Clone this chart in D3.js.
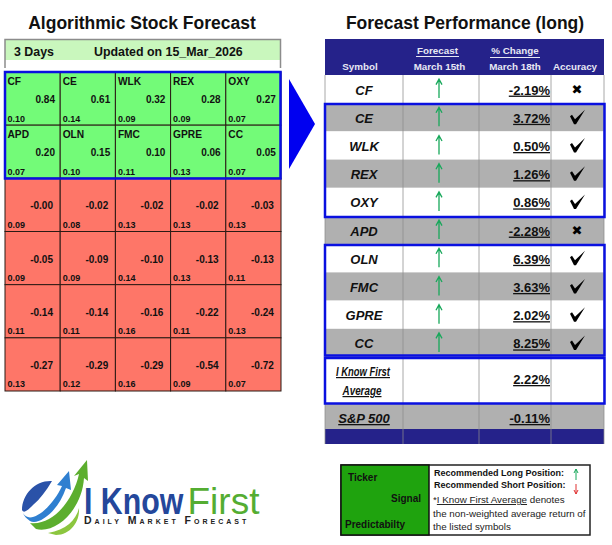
<!DOCTYPE html>
<html>
<head>
<meta charset="utf-8">
<script src="https://cdn.jsdelivr.net/npm/d3@7"></script>
<style>
    html, body { margin: 0; padding: 0; background: #fff; }
    svg { display: block; font-family: "Liberation Sans", Arial, sans-serif; }
</style>
</head>
<body>
<svg id="chart" width="612" height="545"></svg>
<script>
// heatmap cells, read row by row
const tickers = ["CF", "CE", "WLK", "REX", "OXY", "APD", "OLN", "FMC", "GPRE", "CC"];
const signals = ["0.84", "0.61", "0.32", "0.28", "0.27", "0.20", "0.15", "0.10", "0.06", "0.05",
    "-0.00", "-0.02", "-0.02", "-0.02", "-0.03", "-0.05", "-0.09", "-0.10", "-0.13", "-0.13",
    "-0.14", "-0.14", "-0.16", "-0.22", "-0.24", "-0.27", "-0.29", "-0.29", "-0.54", "-0.72"];
const predictability = ["0.10", "0.14", "0.09", "0.09", "0.07", "0.07", "0.10", "0.11", "0.13", "0.07",
    "0.09", "0.08", "0.13", "0.13", "0.13", "0.09", "0.09", "0.14", "0.13", "0.11",
    "0.11", "0.11", "0.16", "0.11", "0.13", "0.13", "0.12", "0.16", "0.09", "0.07"];

// performance table
const symbols = ["CF", "CE", "WLK", "REX", "OXY", "APD", "OLN", "FMC", "GPRE", "CC"];
const changes = ["-2.19%", "3.72%", "0.50%", "1.26%", "0.86%", "-2.28%", "6.39%", "3.63%", "2.02%", "8.25%"];
const hits = [false, true, true, true, true, false, true, true, true, true];
const averageChange = "2.22%";
const spChange = "-0.11%";

const svg = d3.select("#chart");

function label(parent, x, y, str, size, opts) {
    opts = opts || {};
    return parent.append("text")
        .attr("x", x).attr("y", y)
        .attr("font-size", size)
        .attr("text-anchor", opts.anchor || "start")
        .attr("font-weight", opts.weight || "bold")
        .attr("font-style", opts.style || "normal")
        .attr("fill", opts.fill || "#111")
        .attr("text-decoration", opts.underline ? "underline" : null)
        .text(str);
}

// squeeze a label to a given width (the narrow fonts are not installed)
function squeeze(sel, width) {
    return sel.attr("textLength", width).attr("lengthAdjust", "spacingAndGlyphs");
}

/* ---------- left: forecast heatmap ---------- */
const colX = d3.scaleBand().domain(d3.range(5)).range([5, 281]);
const rowY = d3.scaleBand().domain(d3.range(6)).range([72, 391]);

label(svg, 142, 29, "Algorithmic Stock Forecast", 17.5, { anchor: "middle" });

svg.append("rect").attr("x", 5).attr("y", 39).attr("width", 276).attr("height", 21).attr("fill", "#c9f7bd");
svg.append("path").attr("d", "M5,68V39.5H280.5V68").attr("fill", "none").attr("stroke", "#8c8c8c").attr("stroke-width", 1.5);
label(svg, 14, 56, "3 Days", 12.4);
label(svg, 94, 56, "Updated on 15_Mar_2026", 12.4);

const cells = svg.append("g").selectAll("g")
    .data(signals.map((s, i) => ({ s, i })))
    .join("g")
    .attr("transform", d => `translate(${colX(d.i % 5)},${rowY(Math.floor(d.i / 5))})`);

cells.append("rect")
    .attr("width", colX.bandwidth())
    .attr("height", rowY.bandwidth())
    .attr("fill", d => d.i < 10 ? "#73fb78" : "#fe7668")
    .attr("stroke", "#2b1a14")
    .attr("stroke-width", 1);

cells.append("text").attr("font-weight", "bold").attr("fill", "#111").attr("x", 2.5).attr("y", 12.5).attr("font-size", 10.2)
    .text(d => tickers[d.i] || "");
cells.append("text").attr("font-weight", "bold").attr("fill", "#111")
    .attr("x", d => d.i < 10 ? 50 : 48)
    .attr("y", 31)
    .attr("text-anchor", "end").attr("font-size", 10)
    .text(d => d.s);
cells.append("text").attr("font-weight", "bold").attr("fill", "#111").attr("x", 2.5).attr("y", 49.5).attr("font-size", 9)
    .text(d => predictability[d.i]);

// blue box round the long picks
svg.append("rect").attr("x", 5).attr("y", 72).attr("width", 275.5).attr("height", 106.5)
    .attr("fill", "none").attr("stroke", "#0a10e0").attr("stroke-width", 2.5);

// big arrow between the panels
svg.append("path").attr("d", "M289,79L315,124L289,169Z").attr("fill", "#0000f0");

/* ---------- right: performance table ---------- */
const tableCols = [325, 403, 479, 551, 604];
const rowBand = d3.scaleBand().domain(symbols).range([75, 357]);
const bodyBottom = 445;

label(svg, 465, 29, "Forecast Performance (long)", 17.5, { anchor: "middle" });

// header
svg.append("rect").attr("x", 325).attr("y", 39).attr("width", 279).attr("height", 36).attr("fill", "#25228a");
const white = { anchor: "middle", fill: "#e8e8f4" };
label(svg, 360, 70, "Symbol", 9.8, white);
label(svg, 437.5, 54, "Forecast", 9.8, white);
label(svg, 439.5, 70, "March 15th", 9.8, white);
label(svg, 515, 54, "% Change", 9.8, white);
label(svg, 515, 70, "March 18th", 9.8, white);
label(svg, 575, 70, "Accuracy", 9.8, white);
svg.append("line").attr("x1", 416).attr("x2", 459).attr("y1", 56.5).attr("y2", 56.5).attr("stroke", "#e8e8f4");
svg.append("line").attr("x1", 490).attr("x2", 540).attr("y1", 57.5).attr("y2", 57.5).attr("stroke", "#e8e8f4");

// rows
symbols.forEach(function (sym, i) {
    const top = rowBand(sym);
    const h = rowBand.bandwidth();
    svg.append("rect").attr("x", 325).attr("y", top).attr("width", 279).attr("height", h)
        .attr("fill", i % 2 ? "#b0b0b0" : "#fff");
    const mid = top + h / 2;
    label(svg, 364, mid + 5.5, sym, 13, { anchor: "middle", style: "italic" });
    label(svg, 550, mid + 5.5, changes[i], 13, { anchor: "end", underline: true });
    svg.append("path")
        .attr("d", `M439,${mid + 9}V${mid - 10}M436,${mid - 4.5}L439,${mid - 10}L442,${mid - 4.5}`)
        .attr("fill", "none").attr("stroke", "#17a85a").attr("stroke-width", 1.3);
    if (hits[i]) {
        svg.append("path")
            .attr("d", `M570,${mid - 1}L572,${mid - 2.5}L575,${mid + 2}L585,${mid - 7.5}L576,${mid + 7}L574,${mid + 7}Z`)
            .attr("fill", "#000");
    } else {
        label(svg, 577, mid + 5, "\u2716", 13, { anchor: "middle", fill: "#000" })
            .style("font-family", "'DejaVu Sans'");
    }
});

// summary rows
svg.append("rect").attr("x", 325).attr("y", 357).attr("width", 279).attr("height", 47).attr("fill", "#fff");
svg.append("rect").attr("x", 325).attr("y", 404).attr("width", 279).attr("height", 25).attr("fill", "#b0b0b0");
svg.append("rect").attr("x", 325).attr("y", 429).attr("width", 279).attr("height", 15).attr("fill", "#25228a");
const condensed = { anchor: "middle", style: "italic", underline: true };
squeeze(label(svg, 363, 376, "I Know First", 12, condensed), 54);
squeeze(label(svg, 362, 395, "Average", 12, condensed), 39);
label(svg, 550, 384, averageChange, 13, { anchor: "end", underline: true });
label(svg, 364, 423, "S&P 500", 13, condensed);
label(svg, 550, 423, spChange, 13, { anchor: "end", underline: true });

// column rules and table outline
tableCols.forEach(function (x) {
    svg.append("line").attr("x1", x).attr("x2", x).attr("y1", 75).attr("y2", bodyBottom - 1)
        .attr("stroke", "#8c8c8c").attr("stroke-width", 1).attr("opacity", 0.75);
});

// blue highlight boxes
[[104, 113], [245, 110.5], [358, 45.5]].forEach(function (b) {
    svg.append("rect").attr("x", 325).attr("y", b[0]).attr("width", 279.5).attr("height", b[1])
        .attr("fill", "none").attr("stroke", "#0a10e0").attr("stroke-width", 2.5);
});

/* ---------- logo ---------- */
const logo = svg.append("g");
logo.append("path").attr("d", "M52,481C36,480 22,494 22,510C24,514 28,510 33,505C40,499 46,491 52,481Z").attr("fill", "#2a52a8");
logo.append("path").attr("d", "M23,513C30,526 52,508 62,486L57,485L69,471L71,490L66,488C58,512 38,526 30,521C27,519 24,516 23,513Z").attr("fill", "#2f7fd0");
logo.append("path").attr("d", "M30,523C54,526 74,498 79,474L74,476L87,460L88,481L84,478C82,510 56,534 36,529Z").attr("fill", "#5cae2e");
logo.append("path").attr("d", "M48,533C66,530 76,520 79,508C80,522 70,535 56,535Z").attr("fill", "#8cc63f");
label(logo, 0, 0, "I Know", 37, { fill: "#24479b" })
    .attr("transform", "translate(84,514) scale(0.82,1)");
label(logo, 187.5, 514, "First", 37, { fill: "#54ad32", weight: "normal" });
label(logo, 84, 524, "Daily Market Forecast", 10.5, { fill: "#222" })
    .style("font-variant", "small-caps").attr("letter-spacing", 3);

/* ---------- legend ---------- */
svg.append("rect").attr("x", 341).attr("y", 465).attr("width", 249).attr("height", 70)
    .attr("fill", "#fff").attr("stroke", "#222").attr("stroke-width", 1.5);
svg.append("rect").attr("x", 341).attr("y", 465).attr("width", 88).attr("height", 70)
    .attr("fill", "#1fa30e").attr("stroke", "#111").attr("stroke-width", 1.5);
label(svg, 348, 481, "Ticker", 10);
label(svg, 421, 502, "Signal", 10, { anchor: "end" });
label(svg, 345, 528, "Predictabilty", 10);
label(svg, 434, 476, "Recommended Long Position:", 9);
label(svg, 434, 488, "Recommended Short Position:", 9);
svg.append("path").attr("d", "M576,480V469M574,473L576,469L578,473").attr("fill", "none").attr("stroke", "#17a85a");
svg.append("path").attr("d", "M576,484V494M574,490L576,494L578,490").attr("fill", "none").attr("stroke", "#e03030");
const noteOpts = { weight: "normal", fill: "#222" };
const note = label(svg, 433, 503, "*", 9.8, noteOpts);
note.append("tspan").attr("text-decoration", "underline").text("I Know First Average");
note.append("tspan").text(" denotes");
label(svg, 433, 517, "the non-weighted average return of", 9.8, noteOpts);
label(svg, 433, 530, "the listed symbols", 9.8, noteOpts);
</script>
</body>
</html>
